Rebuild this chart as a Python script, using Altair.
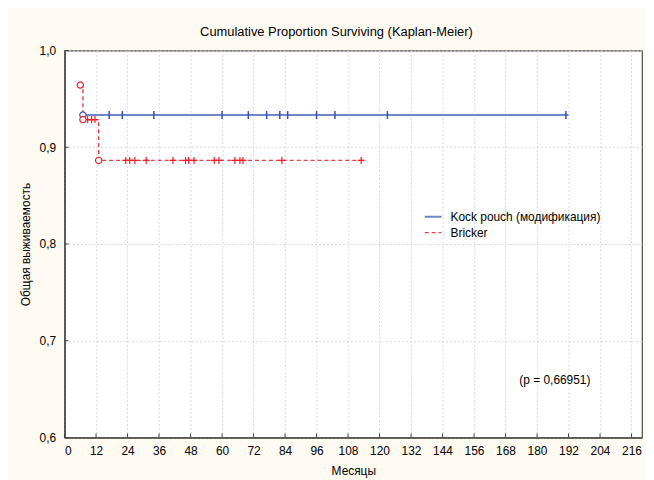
import altair as alt
import pandas as pd

# ---------------- data ----------------
groups = ["Kock pouch (модификация)", "Bricker"]
line_colors = ["#6f87c8", "#e8424c"]
tick_colors = ["#3550b0", "#f01c24"]

kock_event_months = [7]
kock_event_surv = [0.9333]
kock_censor_months = [17, 22, 34, 60, 70, 77, 82, 85, 96, 103, 123, 191]
kock_last_month = 192

bricker_event_months = [6, 7, 13]
bricker_event_surv = [0.9643, 0.9286, 0.8864]
bricker_censor_months = [8.8, 10.3, 11.6, 23.3, 24.8, 26.8, 31.1, 41.3, 46.1, 47.3,
                         49.3, 57.0, 58.8, 64.9, 66.8, 68.0, 82.8, 113.0]
bricker_last_month = 114

x_ticks = list(range(0, 217, 12))
y_ticks = [0.6, 0.7, 0.8, 0.9, 1.0]

title_text = "Cumulative Proportion Surviving (Kaplan-Meier)"
x_title = "Месяцы"
y_title = "Общая выживаемость"
p_text = "(p = 0,66951)"

# ---------------- tables ----------------
def surv_at(t, em, es):
    s = es[0]
    for m, v in zip(em, es):
        if m <= t:
            s = v
    return s

series = [
    (groups[0], kock_event_months, kock_event_surv, kock_censor_months, kock_last_month),
    (groups[1], bricker_event_months, bricker_event_surv, bricker_censor_months, bricker_last_month),
]

line_rows, event_rows, censor_rows = [], [], []
for g, em, es, cm, last in series:
    for i, (m, s) in enumerate(zip(em, es)):
        line_rows.append({"group": g, "month": m, "surv": s, "o": i})
        event_rows.append({"group": g, "month": m, "surv": s})
    line_rows.append({"group": g, "month": last, "surv": es[-1], "o": len(em)})
    for m in cm:
        censor_rows.append({"group": g, "month": m, "surv": surv_at(m, em, es)})

lines_df = pd.DataFrame(line_rows)
events_df = pd.DataFrame(event_rows)
censor_df = pd.DataFrame(censor_rows)
xt_df = pd.DataFrame({"month": x_ticks})
yt_df = pd.DataFrame({"surv": y_ticks})

W, H = 582, 390
xscale = alt.Scale(domain=[0, 220], nice=False, zero=False)
yscale = alt.Scale(domain=[0.6, 1.0], nice=False, zero=False)
cscale = alt.Scale(domain=groups, range=line_colors)
tscale = alt.Scale(domain=groups, range=tick_colors)
dscale = alt.Scale(domain=groups, range=[[1, 0], [4, 3]])
wscale = alt.Scale(domain=groups, range=[2, 1.4])

x_axis = alt.Axis(values=x_ticks, title=x_title, ticks=False, tickSize=0,
                  labelPadding=8, titlePadding=9, grid=True, format="d")
y_axis = alt.Axis(values=y_ticks, title=y_title, ticks=False, tickSize=0,
                  labelPadding=9, titlePadding=7, grid=True,
                  labelExpr="replace(format(datum.value, '.1f'), '.', ',')")

X = alt.X("month:Q", scale=xscale, axis=x_axis)
Y = alt.Y("surv:Q", scale=yscale, axis=y_axis)

legend = alt.Legend(orient="none", legendX=362, legendY=158, title=None,
                    symbolType="stroke", symbolSize=289, symbolStrokeWidth=1.4,
                    labelFontSize=12, labelColor="#000000", padding=0,
                    rowPadding=-1, labelOffset=8, labelFont="Liberation Sans")

lines = alt.Chart(lines_df).mark_line(interpolate="step-after").encode(
    x=X, y=Y,
    color=alt.Color("group:N", scale=cscale, legend=legend),
    strokeDash=alt.StrokeDash("group:N", scale=dscale, legend=legend),
    strokeWidth=alt.StrokeWidth("group:N", scale=wscale, legend=None),
    order="o:Q",
    detail="group:N",
)

kock_ticks = alt.Chart(censor_df[censor_df.group == groups[0]]).mark_point(
    shape="M0,-1L0,1", size=64, strokeWidth=1.5, opacity=1, color=tick_colors[0]
).encode(x=X, y=Y)

bricker_ticks = alt.Chart(censor_df[censor_df.group == groups[1]]).mark_point(
    shape="M-1,0L1,0M0,-1L0,1", size=49, strokeWidth=1.2, opacity=1, color=tick_colors[1]
).encode(x=X, y=Y)

events = alt.Chart(events_df).mark_point(
    shape="circle", size=40, fill="white", fillOpacity=1, opacity=1, strokeWidth=1.2
).encode(
    x=X, y=Y,
    stroke=alt.Stroke("group:N", scale=tscale, legend=None),
)

xticks_in = alt.Chart(xt_df).mark_rule(color="#444444", strokeWidth=1).encode(
    x=X, y=alt.value(H - 4), y2=alt.value(H),
)
yticks_in = alt.Chart(yt_df).mark_rule(color="#444444", strokeWidth=1).encode(
    y=Y, x=alt.value(0), x2=alt.value(4),
)

ptext = alt.Chart(pd.DataFrame({"label": [p_text]})).mark_text(
    align="right", baseline="middle", fontSize=12, color="#000000", font="Liberation Sans"
).encode(text="label:N", x=alt.value(530), y=alt.value(332))

chart = alt.layer(lines, kock_ticks, bricker_ticks, events, xticks_in, yticks_in, ptext).properties(
    width=W, height=H,
    autosize=alt.AutoSizeParams(type="none"),
    padding={"left": 57, "top": 41, "right": 4, "bottom": 41},
    title=alt.TitleParams(title_text, fontSize=13, font="Liberation Sans", fontWeight="normal",
                          color="#000000", anchor="middle", dx=-17, baseline="bottom", offset=-7),
).configure(
    background="#FFFBF2", font="Liberation Sans"
).configure_view(
    fill="white", stroke="#4a4a4a", strokeWidth=1.2
).configure_axis(
    labelFont="Liberation Sans", titleFont="Liberation Sans", labelFontSize=12, titleFontSize=12,
    labelColor="#000000", titleColor="#000000", titleFontWeight="normal",
    domainColor="#4a4a4a", domainWidth=1.6, gridColor="#d8d8d8", gridDash=[2, 2], gridWidth=1,
)

chart.save("out.html", embed_options={"renderer": "svg", "actions": False})
